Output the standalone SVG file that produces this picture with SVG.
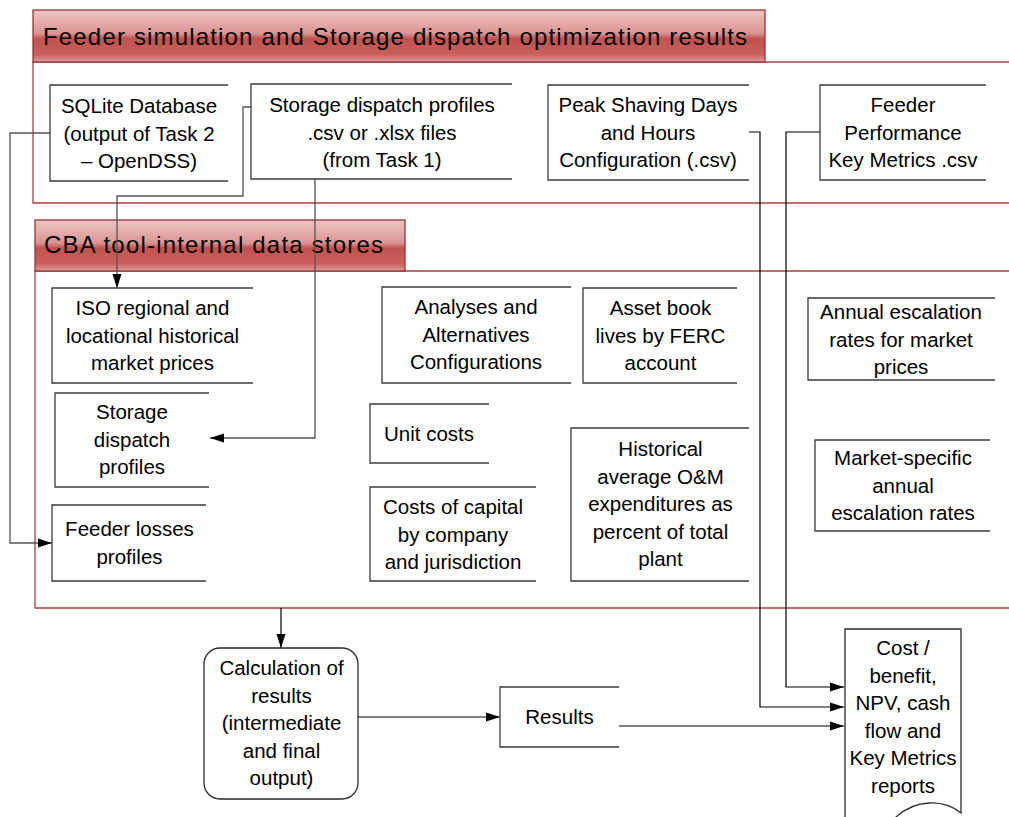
<svg xmlns="http://www.w3.org/2000/svg" width="1009" height="817" viewBox="0 0 1009 817">
<style>
  .bg{fill:#ffffff}
  .band{fill:url(#bandGrad);stroke:#943634;stroke-width:1.3}
  .cont{fill:none;stroke:#A8423F;stroke-width:1.3}
  .store{fill:#ffffff;stroke:#3a3a3a;stroke-width:1.3}
  .proc{fill:#ffffff;stroke:#2a2a2a;stroke-width:1.3}
  .conn{fill:none;stroke:#000000;stroke-width:1.2}
  .conng{fill:none;stroke:#555555;stroke-width:1.3}
  text{font-family:"Liberation Sans",Arial,sans-serif;fill:#000000}
  .t{font-size:20.5px;text-anchor:middle}
  .title{font-size:24px}
</style>
<defs>
  <linearGradient id="bandGrad" x1="0" y1="0" x2="0" y2="1">
    <stop offset="0" stop-color="#EEC6C5"/>
    <stop offset="0.45" stop-color="#DB9492"/>
    <stop offset="0.55" stop-color="#C2524F"/>
    <stop offset="0.85" stop-color="#C95F5C"/>
    <stop offset="1" stop-color="#DE9C9A"/>
  </linearGradient>
  <marker id="arr" viewBox="0 0 14 10" refX="14" refY="5" markerWidth="14" markerHeight="10" orient="auto" markerUnits="userSpaceOnUse">
    <path d="M0,0.5 L14,5 L0,9.5 Z" fill="#000000"/>
  </marker>
</defs>
<rect class="bg" x="0" y="0" width="1009" height="817"/>

<g id="container-feeder">
  <path class="cont" d="M1009,62 H33 V203 H1009"/>
  <rect class="band" x="33" y="10" width="732" height="52"/>
  <text class="title" x="43" y="45" textLength="704" lengthAdjust="spacing">Feeder simulation and Storage dispatch optimization results</text>
</g>

<g id="container-cba">
  <path class="cont" d="M1009,271 H35 V608 H1009"/>
  <rect class="band" x="35" y="220" width="370" height="51"/>
  <text class="title" x="44" y="253" textLength="339" lengthAdjust="spacing">CBA tool-internal data stores</text>
</g>

<g id="connectors">
  <path class="conng" d="M50,133 H10 V543 H52" marker-end="url(#arr)"/>
  <path class="conng" d="M251,107 H243 V196 H117 V288" marker-end="url(#arr)"/>
  <path class="conng" d="M315,179 V438 H210" marker-end="url(#arr)"/>
  <path class="conn" d="M749,132 H760 V707 H844" marker-end="url(#arr)"/>
  <path class="conn" d="M820,132 H786 V687 H844" marker-end="url(#arr)"/>
  <path class="conn" d="M281,608 V648" marker-end="url(#arr)"/>
  <path class="conn" d="M358,717 H500" marker-end="url(#arr)"/>
  <path class="conn" d="M619,726 H844" marker-end="url(#arr)"/>
</g>

<g id="node-sqlite">
  <path class="store" d="M228,85 H50 V181 H228"/>
  <text class="t" x="139" y="113">SQLite Database</text>
  <text class="t" x="139" y="140.5">(output of Task 2</text>
  <text class="t" x="139" y="168">– OpenDSS)</text>
</g>

<g id="node-storage-csv">
  <path class="store" d="M512,84 H251 V179 H512"/>
  <text class="t" x="382" y="112">Storage dispatch profiles</text>
  <text class="t" x="382" y="139.5">.csv or .xlsx files</text>
  <text class="t" x="382" y="167">(from Task 1)</text>
</g>

<g id="node-peak">
  <path class="store" d="M749,85 H548 V180 H749"/>
  <text class="t" x="648" y="112">Peak Shaving Days</text>
  <text class="t" x="648" y="139.5">and Hours</text>
  <text class="t" x="648" y="167">Configuration (.csv)</text>
</g>

<g id="node-feeder-metrics">
  <path class="store" d="M986,85 H820 V180 H986"/>
  <text class="t" x="903" y="112">Feeder</text>
  <text class="t" x="903" y="139.5">Performance</text>
  <text class="t" x="903" y="167">Key Metrics .csv</text>
</g>

<g id="node-iso">
  <path class="store" d="M253,288 H52 V383 H253"/>
  <text class="t" x="152.5" y="315">ISO regional and</text>
  <text class="t" x="152.5" y="342.5">locational historical</text>
  <text class="t" x="152.5" y="370">market prices</text>
</g>

<g id="node-storage-profiles">
  <path class="store" d="M209,393 H55 V487 H209"/>
  <text class="t" x="132" y="419">Storage</text>
  <text class="t" x="132" y="446.5">dispatch</text>
  <text class="t" x="132" y="474">profiles</text>
</g>

<g id="node-feeder-losses">
  <path class="store" d="M206,505 H52 V581 H206"/>
  <text class="t" x="129.5" y="536">Feeder losses</text>
  <text class="t" x="129.5" y="563.5">profiles</text>
</g>

<g id="node-analyses">
  <path class="store" d="M571,287 H382 V383 H571"/>
  <text class="t" x="476" y="314">Analyses and</text>
  <text class="t" x="476" y="341.5">Alternatives</text>
  <text class="t" x="476" y="369">Configurations</text>
</g>

<g id="node-unit-costs">
  <path class="store" d="M489,404 H370 V463 H489"/>
  <text class="t" x="429" y="441">Unit costs</text>
</g>

<g id="node-cost-capital">
  <path class="store" d="M536,487 H370 V581 H536"/>
  <text class="t" x="453" y="514">Costs of capital</text>
  <text class="t" x="453" y="541.5">by company</text>
  <text class="t" x="453" y="569">and jurisdiction</text>
</g>

<g id="node-asset">
  <path class="store" d="M737,288 H583 V383 H737"/>
  <text class="t" x="660.5" y="315">Asset book</text>
  <text class="t" x="660.5" y="342.5">lives by FERC</text>
  <text class="t" x="660.5" y="370">account</text>
</g>

<g id="node-historical">
  <path class="store" d="M749,428 H571 V581 H749"/>
  <text class="t" x="660.5" y="456">Historical</text>
  <text class="t" x="660.5" y="483.5">average O&amp;M</text>
  <text class="t" x="660.5" y="511">expenditures as</text>
  <text class="t" x="660.5" y="538.5">percent of total</text>
  <text class="t" x="660.5" y="566">plant</text>
</g>

<g id="node-annual-escalation">
  <path class="store" d="M995,298 H808 V380 H995"/>
  <text class="t" x="901" y="319">Annual escalation</text>
  <text class="t" x="901" y="346.5">rates for market</text>
  <text class="t" x="901" y="374">prices</text>
</g>

<g id="node-market-escalation">
  <path class="store" d="M990,440 H815 V531 H990"/>
  <text class="t" x="903" y="465">Market-specific</text>
  <text class="t" x="903" y="492.5">annual</text>
  <text class="t" x="903" y="520">escalation rates</text>
</g>

<g id="node-calculation">
  <rect class="proc" x="204" y="648" width="154" height="151" rx="16" ry="16"/>
  <text class="t" x="281.5" y="675">Calculation of</text>
  <text class="t" x="281.5" y="702.5">results</text>
  <text class="t" x="281.5" y="730">(intermediate</text>
  <text class="t" x="281.5" y="757.5">and final</text>
  <text class="t" x="281.5" y="785">output)</text>
</g>

<g id="node-results">
  <path class="store" d="M619,687 H500 V747 H619"/>
  <text class="t" x="559.5" y="724">Results</text>
</g>

<g id="node-report">
  <path class="proc" d="M845,629 H961 V813 C945,800 915,797 893,820 L845,820 Z"/>
  <text class="t" x="903" y="655">Cost /</text>
  <text class="t" x="903" y="682.5">benefit,</text>
  <text class="t" x="903" y="710">NPV, cash</text>
  <text class="t" x="903" y="737.5">flow and</text>
  <text class="t" x="903" y="765">Key Metrics</text>
  <text class="t" x="903" y="792.5">reports</text>
</g>
</svg>
